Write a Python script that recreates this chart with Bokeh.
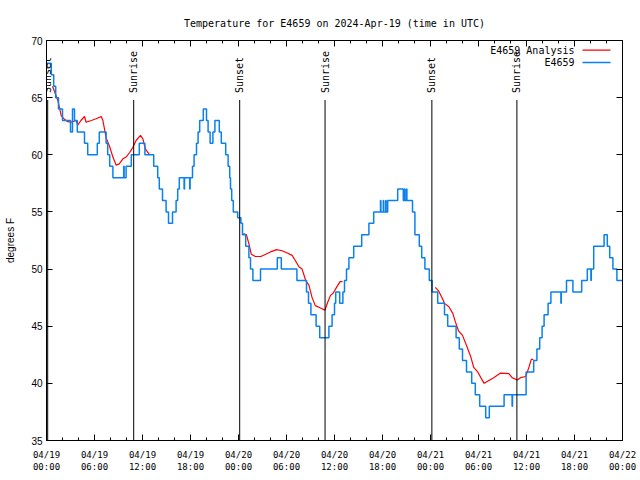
import math
from bokeh.plotting import figure
from bokeh.models import Range1d, FixedTicker, LinearAxis, Label
from bokeh.core.properties import value
from bokeh.embed import file_html
from bokeh.resources import INLINE

title_text = "Temperature for E4659 on 2024-Apr-19 (time in UTC)"
y_label = "degrees F"
station = "E4659"
analysis_name = "E4659 Analysis"

# x in hours since 04/19 00:00 UTC
tick_hours = [0, 6, 12, 18, 24, 30, 36, 42, 48, 54, 60, 66, 72]
tick_labels = ["04/19\n00:00", "04/19\n06:00", "04/19\n12:00", "04/19\n18:00",
               "04/20\n00:00", "04/20\n06:00", "04/20\n12:00", "04/20\n18:00",
               "04/21\n00:00", "04/21\n06:00", "04/21\n12:00", "04/21\n18:00",
               "04/22\n00:00"]
minor_hours = list(range(0, 73, 2))
y_ticks = [35, 40, 45, 50, 55, 60, 65, 70]

# observed temperature (step series)
obs_hours = [0.0, 0.6, 0.9, 1.15, 1.5, 2.0, 3.0, 3.25, 3.5, 3.85, 4.75, 5.15, 6.35, 6.6,
             7.45, 7.65, 7.9, 8.3, 9.65, 9.7, 9.95, 10.6, 11.6, 12.3, 13.4,
             13.9, 14.1, 14.5, 14.95, 15.25, 15.75, 16.2, 16.4, 16.6, 17.2, 17.25, 17.9,
             17.95, 18.25, 18.45, 18.75, 18.95, 19.15, 19.6, 20.0, 20.2, 20.45, 20.8,
             21.05, 21.6, 21.85, 22.4, 22.7, 22.9, 23.0, 23.15, 23.35, 23.9, 24.3, 24.5,
             24.9, 25.3, 25.5, 25.8, 26.75, 28.85, 29.35, 31.3, 32.5, 32.75, 33.05,
             33.7, 34.15, 35.3, 35.7, 36.0, 36.15, 36.65, 37.05, 37.25, 37.5, 37.8,
             38.4, 39.4, 40.3, 40.9, 41.75, 41.8, 42.1, 42.15, 42.4, 42.45, 42.65,
             43.9, 44.6, 44.75, 44.8, 45.0, 45.05, 45.75, 46.05, 46.6, 46.9, 47.3,
             47.85, 48.2, 48.9, 49.75, 50.15, 51.2, 51.6, 52.0, 52.5, 53.15, 53.6,
             54.15, 54.9, 55.35, 57.2, 58.2, 58.25, 59.95, 60.9, 61.3, 61.65, 61.95,
             62.2, 62.7, 63.05, 64.3, 64.35, 65.0, 65.8, 66.9, 67.6, 68.05, 68.1,
             68.4, 69.7, 70.1, 70.4, 70.8, 71.3, 72.0]
obs_temp = [68, 67, 66, 65, 64, 63, 62, 64, 63, 62, 61, 60, 61, 62,
            61, 60, 59, 58, 59, 58, 59, 60, 61, 60, 59,
            58, 57, 56, 55, 54, 55, 56, 57, 58, 57, 58, 57,
            58, 59, 60, 61, 62, 63, 64, 63, 62, 61, 62,
            63, 62, 61, 60, 59, 58, 57, 56, 55, 54.5, 54, 53,
            52, 51, 50, 49, 50, 51, 50, 49, 48, 47, 46,
            45, 44, 45, 46, 47, 48, 47, 48, 49, 50, 51,
            52, 53, 54, 55, 56, 55, 56, 55, 56, 55, 56,
            57, 56, 57, 56, 57, 56, 55, 53, 52, 51, 50,
            49, 48, 47, 46, 45, 44, 43, 42, 41, 40, 39,
            38, 37, 38, 39, 38, 39, 41, 42, 43, 44, 45,
            46, 47, 48, 47, 48, 49, 48, 49, 50, 49, 50,
            52, 53, 52, 51, 50, 49, 49]

# analysis series (three separate pieces)
an1_hours = [0.75, 1.4, 1.85, 2.25, 2.65, 3.1, 3.7, 3.9, 4.3, 4.75, 4.95, 5.6, 6.2, 6.85,
             7.05, 7.45, 7.9, 8.3, 8.7, 9.1, 9.55, 9.95, 10.4, 10.8, 11.2, 11.75, 12.05,
             12.25, 12.45, 12.9]
an1_temp = [66.0, 64.8, 63.4, 63.1, 62.9, 62.85, 63.0, 62.6, 63.0, 63.35, 62.85, 63.0,
            63.15, 63.35, 63.0, 61.5, 60.7, 59.8, 59.1, 59.2, 59.65, 59.8, 60.2, 60.65,
            61.25, 61.7, 61.4, 60.8, 60.4, 60.0]
an2_hours = [24.6, 25.0, 25.3, 25.6, 26.1, 26.8, 27.4, 28.0, 28.75, 29.45, 30.1, 30.7,
             31.1, 31.55, 31.95, 32.4, 32.8, 33.2, 33.6, 34.25, 34.8, 35.15, 35.5, 35.85,
             36.25, 36.7, 37.0]
an2_temp = [53.1, 53.0, 52.2, 51.3, 51.1, 51.1, 51.3, 51.5, 51.7, 51.6, 51.4, 51.2,
            50.75, 50.2, 50.0, 49.0, 48.6, 47.5, 46.8, 46.6, 46.4, 47.1, 47.7, 47.9,
            48.4, 48.9, 48.9]
an3_hours = [48.6, 49.0, 49.5, 49.75, 50.3, 50.8, 51.1, 51.5, 52.0, 52.4, 53.0, 53.4,
             53.9, 54.7, 55.3, 55.9, 56.75, 57.8, 58.2, 58.85, 59.25, 59.9, 60.3, 60.6,
             60.85]
an3_temp = [48.4, 48.1, 47.4, 47.0, 46.7, 46.1, 45.4, 44.6, 44.2, 43.5, 42.4, 41.4,
            41.0, 40.0, 40.25, 40.5, 40.9, 40.85, 40.5, 40.3, 40.5, 40.6, 41.4, 42.1,
            42.1]

sunset_hours = [0.15, 24.15, 48.17]
sunrise_hours = [10.9, 34.82, 58.8]
event_line_top = 64.8
event_label_y = 65.4

# legend placement (data units)
legend_text_x = 66.0
legend_line_x0 = 67.0
legend_line_x1 = 70.5
legend_y = [69.15, 68.07]

RED = "#ff0000"
BLUE = "#0a80f0"
MONO = "DejaVu Sans Mono"

p = figure(width=640, height=480, output_backend="svg", toolbar_location=None,
           x_range=Range1d(0, 72), y_range=Range1d(35, 70),
           min_border_left=46, min_border_right=18, min_border_top=40,
           min_border_bottom=40)
p.background_fill_color = "white"
p.border_fill_color = "white"
p.outline_line_color = "black"
p.outline_line_width = 1
p.xgrid.visible = False
p.ygrid.visible = False

p.title.text = title_text
p.title.align = "center"
p.title.text_font = MONO
p.title.text_font_size = "10px"
p.title.text_font_style = "normal"
p.title.text_color = "black"
p.title.standoff = 24

xt = FixedTicker(ticks=tick_hours, minor_ticks=minor_hours)
yt = FixedTicker(ticks=y_ticks, minor_ticks=[])

def style_axis(ax, labels=True):
    ax.axis_line_color = "black"
    ax.major_tick_in = 6
    ax.major_tick_out = 0
    ax.minor_tick_in = 3
    ax.minor_tick_out = 0
    ax.major_tick_line_color = "black"
    ax.minor_tick_line_color = "black"
    ax.major_label_text_color = "black"
    if not labels:
        ax.major_label_text_color = None
        ax.major_label_text_font_size = "1px"
        ax.major_label_standoff = 0

xa = p.xaxis[0]
xa.ticker = xt
xa.major_label_overrides = {h: lab for h, lab in zip(tick_hours, tick_labels)}
xa.major_label_text_font = MONO
xa.major_label_text_font_size = "9px"
xa.major_label_text_line_height = 1.27
xa.major_label_standoff = 9
style_axis(xa)

ya = p.yaxis[0]
ya.ticker = yt
ya.axis_label = y_label
ya.axis_label_text_font = "Liberation Sans"
ya.axis_label_text_font_size = "10px"
ya.axis_label_text_font_style = "normal"
ya.axis_label_text_color = "black"
ya.axis_label_standoff = 12
ya.major_label_text_font = "Liberation Sans"
ya.major_label_text_font_size = "10px"
ya.major_label_standoff = 4
style_axis(ya)

top = LinearAxis(ticker=xt)
style_axis(top, labels=False)
p.add_layout(top, "above")
right = LinearAxis(ticker=yt)
style_axis(right, labels=False)
right.minor_tick_in = 0
p.add_layout(right, "right")

# analysis (red) pieces joined with NaN gaps
nan = float("nan")
an_hours = an1_hours + [nan] + an2_hours + [nan] + an3_hours
an_temp = an1_temp + [nan] + an2_temp + [nan] + an3_temp
p.line(an_hours, an_temp, line_color=RED, line_width=1.2)

p.step(obs_hours, obs_temp, mode="after", line_color=BLUE, line_width=1.5)

# sunrise / sunset markers
ev_hours = sunset_hours + sunrise_hours
ev_names = ["Sunset"] * len(sunset_hours) + ["Sunrise"] * len(sunrise_hours)
p.segment(x0=ev_hours, y0=[35] * len(ev_hours), x1=ev_hours,
          y1=[event_line_top] * len(ev_hours), line_color="black", line_width=1)
p.text(x=ev_hours, y=[event_label_y] * len(ev_hours), text=ev_names,
       angle=math.pi / 2, text_align="left", text_baseline="middle",
       text_font=value(MONO), text_font_size="10px", text_color="black")

# legend (gnuplot style: text then sample)
for name, col, yy in [(analysis_name, RED, legend_y[0]), (station, BLUE, legend_y[1])]:
    p.add_layout(Label(x=legend_text_x, y=yy, text=name, text_align="right",
                       text_baseline="middle", text_font=MONO,
                       text_font_size="10px", text_color="black"))
    p.line([legend_line_x0, legend_line_x1], [yy, yy], line_color=col,
           line_width=1.5 if col == BLUE else 1.2)

open("out.html", "w").write(file_html(p, INLINE))
